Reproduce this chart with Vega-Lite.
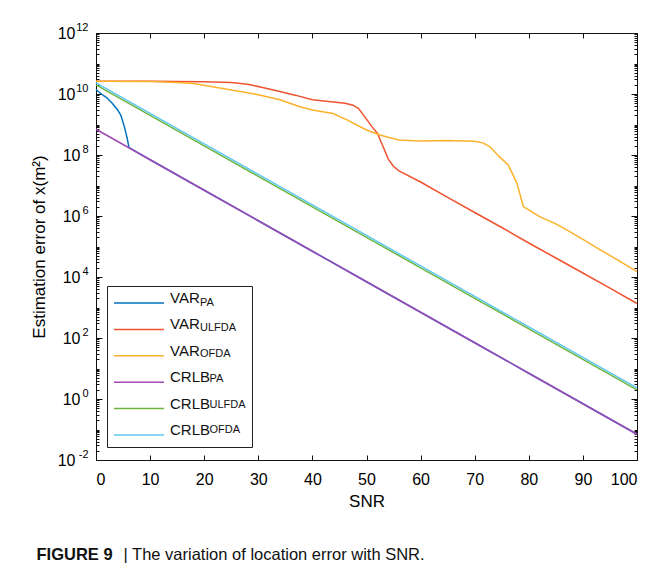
{
  "$schema": "https://vega.github.io/schema/vega-lite/v6.json",
  "width": 541,
  "height": 427,
  "autosize": {"type": "none"},
  "padding": {"left": 96, "top": 33, "right": 28, "bottom": 115},
  "background": "white",
  "config": {
    "view": {"stroke": "#111", "strokeWidth": 1},
    "font": "Liberation Sans",
    "axis": {"grid": false, "domain": false, "labelColor": "black", "titleColor": "black", "tickColor": "#111", "labelFont": "Liberation Sans", "titleFont": "Liberation Sans", "titleFontWeight": "normal"}
  },
  "data": {"values": [
    {"snr": 0, "err": 1.4e10, "series": "VAR_PA"},
    {"snr": 1, "err": 1.0e10, "series": "VAR_PA"},
    {"snr": 2, "err": 7.5e9, "series": "VAR_PA"},
    {"snr": 3, "err": 5.0e9, "series": "VAR_PA"},
    {"snr": 4, "err": 3.0e9, "series": "VAR_PA"},
    {"snr": 4.6, "err": 2.0e9, "series": "VAR_PA"},
    {"snr": 5.2, "err": 9e8, "series": "VAR_PA"},
    {"snr": 5.7, "err": 4e8, "series": "VAR_PA"},
    {"snr": 6.1, "err": 1.75e8, "series": "VAR_PA"},
    {"snr": 10, "err": 7e7, "series": "VAR_PA"},
    {"snr": 20, "err": 7e6, "series": "VAR_PA"},
    {"snr": 30, "err": 7e5, "series": "VAR_PA"},
    {"snr": 40, "err": 7e4, "series": "VAR_PA"},
    {"snr": 50, "err": 7e3, "series": "VAR_PA"},
    {"snr": 60, "err": 700, "series": "VAR_PA"},
    {"snr": 70, "err": 70, "series": "VAR_PA"},
    {"snr": 80, "err": 7, "series": "VAR_PA"},
    {"snr": 90, "err": 0.7, "series": "VAR_PA"},
    {"snr": 100, "err": 0.07, "series": "VAR_PA"},

    {"snr": 0, "err": 2.6e10, "series": "VAR_ULFDA"},
    {"snr": 10, "err": 2.6e10, "series": "VAR_ULFDA"},
    {"snr": 20, "err": 2.5e10, "series": "VAR_ULFDA"},
    {"snr": 25, "err": 2.4e10, "series": "VAR_ULFDA"},
    {"snr": 28, "err": 2.1e10, "series": "VAR_ULFDA"},
    {"snr": 31, "err": 1.6e10, "series": "VAR_ULFDA"},
    {"snr": 34, "err": 1.2e10, "series": "VAR_ULFDA"},
    {"snr": 37, "err": 9e9, "series": "VAR_ULFDA"},
    {"snr": 40, "err": 6.5e9, "series": "VAR_ULFDA"},
    {"snr": 43, "err": 5.7e9, "series": "VAR_ULFDA"},
    {"snr": 46, "err": 5.0e9, "series": "VAR_ULFDA"},
    {"snr": 47.5, "err": 4.3e9, "series": "VAR_ULFDA"},
    {"snr": 48.5, "err": 3.4e9, "series": "VAR_ULFDA"},
    {"snr": 50, "err": 1.5e9, "series": "VAR_ULFDA"},
    {"snr": 51, "err": 8.5e8, "series": "VAR_ULFDA"},
    {"snr": 52, "err": 5.2e8, "series": "VAR_ULFDA"},
    {"snr": 53, "err": 2.0e8, "series": "VAR_ULFDA"},
    {"snr": 54, "err": 7.5e7, "series": "VAR_ULFDA"},
    {"snr": 55, "err": 4.2e7, "series": "VAR_ULFDA"},
    {"snr": 56, "err": 3.0e7, "series": "VAR_ULFDA"},
    {"snr": 60, "err": 1.3e7, "series": "VAR_ULFDA"},
    {"snr": 65, "err": 4.1e6, "series": "VAR_ULFDA"},
    {"snr": 70, "err": 1.3e6, "series": "VAR_ULFDA"},
    {"snr": 75, "err": 4.2e5, "series": "VAR_ULFDA"},
    {"snr": 80, "err": 1.3e5, "series": "VAR_ULFDA"},
    {"snr": 85, "err": 4.2e4, "series": "VAR_ULFDA"},
    {"snr": 90, "err": 1.35e4, "series": "VAR_ULFDA"},
    {"snr": 95, "err": 4.3e3, "series": "VAR_ULFDA"},
    {"snr": 100, "err": 1.35e3, "series": "VAR_ULFDA"},

    {"snr": 0, "err": 2.6e10, "series": "VAR_OFDA"},
    {"snr": 10, "err": 2.55e10, "series": "VAR_OFDA"},
    {"snr": 15, "err": 2.4e10, "series": "VAR_OFDA"},
    {"snr": 18, "err": 2.2e10, "series": "VAR_OFDA"},
    {"snr": 21, "err": 1.8e10, "series": "VAR_OFDA"},
    {"snr": 25, "err": 1.35e10, "series": "VAR_OFDA"},
    {"snr": 30, "err": 9.5e9, "series": "VAR_OFDA"},
    {"snr": 34, "err": 6.5e9, "series": "VAR_OFDA"},
    {"snr": 37.7, "err": 3.8e9, "series": "VAR_OFDA"},
    {"snr": 40, "err": 3.0e9, "series": "VAR_OFDA"},
    {"snr": 43.8, "err": 2.3e9, "series": "VAR_OFDA"},
    {"snr": 46.3, "err": 1.45e9, "series": "VAR_OFDA"},
    {"snr": 50, "err": 6.6e8, "series": "VAR_OFDA"},
    {"snr": 52.5, "err": 4.5e8, "series": "VAR_OFDA"},
    {"snr": 54, "err": 3.8e8, "series": "VAR_OFDA"},
    {"snr": 56, "err": 3.1e8, "series": "VAR_OFDA"},
    {"snr": 60, "err": 2.9e8, "series": "VAR_OFDA"},
    {"snr": 65, "err": 3.0e8, "series": "VAR_OFDA"},
    {"snr": 70, "err": 2.8e8, "series": "VAR_OFDA"},
    {"snr": 71.5, "err": 2.5e8, "series": "VAR_OFDA"},
    {"snr": 72.8, "err": 1.9e8, "series": "VAR_OFDA"},
    {"snr": 74.5, "err": 9e7, "series": "VAR_OFDA"},
    {"snr": 76.2, "err": 4.7e7, "series": "VAR_OFDA"},
    {"snr": 77.8, "err": 1.2e7, "series": "VAR_OFDA"},
    {"snr": 79, "err": 2.0e6, "series": "VAR_OFDA"},
    {"snr": 80, "err": 1.6e6, "series": "VAR_OFDA"},
    {"snr": 82, "err": 9.5e5, "series": "VAR_OFDA"},
    {"snr": 85, "err": 5.5e5, "series": "VAR_OFDA"},
    {"snr": 87, "err": 3.5e5, "series": "VAR_OFDA"},
    {"snr": 90, "err": 1.7e5, "series": "VAR_OFDA"},
    {"snr": 93.2, "err": 7.8e4, "series": "VAR_OFDA"},
    {"snr": 96, "err": 4.0e4, "series": "VAR_OFDA"},
    {"snr": 100, "err": 1.5e4, "series": "VAR_OFDA"},

    {"snr": 0, "err": 7e8, "series": "CRLB_PA"},
    {"snr": 10, "err": 7e7, "series": "CRLB_PA"},
    {"snr": 20, "err": 7e6, "series": "CRLB_PA"},
    {"snr": 30, "err": 7e5, "series": "CRLB_PA"},
    {"snr": 40, "err": 7e4, "series": "CRLB_PA"},
    {"snr": 50, "err": 7e3, "series": "CRLB_PA"},
    {"snr": 60, "err": 700, "series": "CRLB_PA"},
    {"snr": 70, "err": 70, "series": "CRLB_PA"},
    {"snr": 80, "err": 7, "series": "CRLB_PA"},
    {"snr": 90, "err": 0.7, "series": "CRLB_PA"},
    {"snr": 100, "err": 0.07, "series": "CRLB_PA"},

    {"snr": 0, "err": 2.0e10, "series": "CRLB_ULFDA"},
    {"snr": 10, "err": 2.0e9, "series": "CRLB_ULFDA"},
    {"snr": 20, "err": 2.0e8, "series": "CRLB_ULFDA"},
    {"snr": 30, "err": 2.0e7, "series": "CRLB_ULFDA"},
    {"snr": 40, "err": 2.0e6, "series": "CRLB_ULFDA"},
    {"snr": 50, "err": 2.0e5, "series": "CRLB_ULFDA"},
    {"snr": 60, "err": 2.0e4, "series": "CRLB_ULFDA"},
    {"snr": 70, "err": 2.0e3, "series": "CRLB_ULFDA"},
    {"snr": 80, "err": 200, "series": "CRLB_ULFDA"},
    {"snr": 90, "err": 20, "series": "CRLB_ULFDA"},
    {"snr": 100, "err": 2.0, "series": "CRLB_ULFDA"},

    {"snr": 0, "err": 2.3e10, "series": "CRLB_OFDA"},
    {"snr": 10, "err": 2.3e9, "series": "CRLB_OFDA"},
    {"snr": 20, "err": 2.3e8, "series": "CRLB_OFDA"},
    {"snr": 30, "err": 2.3e7, "series": "CRLB_OFDA"},
    {"snr": 40, "err": 2.3e6, "series": "CRLB_OFDA"},
    {"snr": 50, "err": 2.3e5, "series": "CRLB_OFDA"},
    {"snr": 60, "err": 2.3e4, "series": "CRLB_OFDA"},
    {"snr": 70, "err": 2.3e3, "series": "CRLB_OFDA"},
    {"snr": 80, "err": 230, "series": "CRLB_OFDA"},
    {"snr": 90, "err": 23, "series": "CRLB_OFDA"},
    {"snr": 100, "err": 2.3, "series": "CRLB_OFDA"}
  ]},
  "layer": [
    {
      "mark": {"type": "line", "strokeWidth": 1.5},
      "encoding": {
        "x": {"field": "snr", "type": "quantitative",
              "scale": {"domain": [0, 100], "nice": false, "zero": false},
              "axis": {"orient": "bottom", "values": [0,10,20,30,40,50,60,70,80,90,100], "ticks": false, "tickSize": 0, "labelPadding": 11, "labelFontSize": 16, "title": "SNR", "titleFontSize": 17, "titlePadding": 6}},
        "y": {"field": "err", "type": "quantitative",
              "scale": {"type": "log", "domain": [0.01, 1e12], "nice": false},
              "axis": {"orient": "left", "values": [0.01, 1, 100, 1e4, 1e6, 1e8, 1e10, 1e12], "ticks": false, "tickSize": 0,
                       "labelExpr": "'10'", "labelFontSize": 16, "labelBaseline": "middle",
                       "labelPadding": {"condition": {"test": "datum.value >= 0.5 && datum.value <= 2e8", "value": 16}, "value": 21},
                       "title": "Estimation error of x(m²)", "titleFontSize": 17, "titlePadding": 9}},
        "color": {"field": "series", "type": "nominal",
                  "scale": {"domain": ["VAR_PA", "VAR_ULFDA", "VAR_OFDA", "CRLB_PA", "CRLB_ULFDA", "CRLB_OFDA"],
                            "range": ["#0072BD", "#EF5330", "#FBB12A", "#A149B5", "#6DB33F", "#5CC8F0"]},
                  "legend": {"orient": "none", "legendX": 11, "legendY": 253, "title": null,
                             "symbolType": "stroke", "symbolSize": 2500, "symbolStrokeWidth": 1.5,
                             "labelFont": "Liberation Sans", "labelFontSize": 15, "labelColor": "#111",
                             "labelBaseline": "alphabetic", "labelOffset": 5, "padding": 6,
                             "clipHeight": 22, "rowPadding": 3.4, "labelLimit": 300,
                             "labelExpr": "split(datum.label, '_')[0]"}}
      }
    },
    {
      "mark": {"type": "line", "opacity": 0},
      "encoding": {
        "x": {"field": "snr", "type": "quantitative",
              "axis": {"orient": "top", "values": [0,10,20,30,40,50,60,70,80,90,100], "labels": false, "tickSize": -5, "title": null}},
        "y": {"field": "err", "type": "quantitative",
              "axis": {"orient": "left", "values": [0.01, 1, 100, 1e4, 1e6, 1e8, 1e10, 1e12], "ticks": false, "tickSize": 0,
                       "labelExpr": "'' + round(log(datum.value) / LN10)", "labelFontSize": 11, "labelAlign": "right",
                       "labelBaseline": "middle", "labelOffset": -6, "labelPadding": 8, "title": null}},
        "color": {"field": "series", "type": "nominal",
                  "scale": {"domain": ["VAR_PA", "VAR_ULFDA", "VAR_OFDA", "CRLB_PA", "CRLB_ULFDA", "CRLB_OFDA"],
                            "range": ["#0072BD", "#EF5330", "#FBB12A", "#A149B5", "#6DB33F", "#5CC8F0"]},
                  "legend": {"orient": "none", "legendX": 11, "legendY": 253, "title": null,
                             "symbolType": "stroke", "symbolSize": 2500, "symbolStrokeWidth": 1.5, "symbolOpacity": 0,
                             "labelFont": "Liberation Sans", "labelFontSize": 11, "labelColor": "#111",
                             "labelBaseline": "middle", "labelOffset": 35, "padding": 6,
                             "clipHeight": 22, "rowPadding": 3.4, "labelLimit": 300,
                             "strokeColor": "#222", "fillColor": null,
                             "labelExpr": "split(datum.label, '_')[1]",
                             "encode": {"labels": {"update": {"dx": {"signal": "indexof(datum.value, 'CRLB') == 0 ? 9.5 : 0"}}}}}}
      }
    },
    {
      "mark": {"type": "line", "opacity": 0},
      "encoding": {
        "x": {"field": "snr", "type": "quantitative",
              "axis": {"orient": "bottom", "values": [0,10,20,30,40,50,60,70,80,90,100], "labels": false, "tickSize": -5,
                       "title": "| The variation of location error with SNR.", "titleFontSize": 16.5, "titleColor": "#111",
                       "titleX": 27, "titleY": 99, "titleAlign": "left", "titleBaseline": "alphabetic", "titleAnchor": "start"}},
        "y": {"field": "err", "type": "quantitative",
              "axis": {"orient": "left", "labels": false, "title": null,
                       "values": [0.01,0.02,0.03,0.04,0.05,0.06,0.07,0.08,0.09,0.1,0.2,0.3,0.4,0.5,0.6,0.7,0.8,0.9,1,2,3,4,5,6,7,8,9,10,20,30,40,50,60,70,80,90,100,200,300,400,500,600,700,800,900,1e3,2e3,3e3,4e3,5e3,6e3,7e3,8e3,9e3,1e4,2e4,3e4,4e4,5e4,6e4,7e4,8e4,9e4,1e5,2e5,3e5,4e5,5e5,6e5,7e5,8e5,9e5,1e6,2e6,3e6,4e6,5e6,6e6,7e6,8e6,9e6,1e7,2e7,3e7,4e7,5e7,6e7,7e7,8e7,9e7,1e8,2e8,3e8,4e8,5e8,6e8,7e8,8e8,9e8,1e9,2e9,3e9,4e9,5e9,6e9,7e9,8e9,9e9,1e10,2e10,3e10,4e10,5e10,6e10,7e10,8e10,9e10,1e11,2e11,3e11,4e11,5e11,6e11,7e11,8e11,9e11,1e12],
                       "tickSize": {"condition": {"test": "indexof([0.01, 1, 100, 10000, 1000000, 100000000, 10000000000, 1000000000000], datum.value) >= 0", "value": -6}, "value": -3}}}
      }
    },
    {
      "mark": {"type": "line", "opacity": 0},
      "encoding": {
        "x": {"field": "snr", "type": "quantitative",
              "axis": {"orient": "bottom", "labels": false, "ticks": false, "tickSize": 0,
                       "title": "FIGURE 9", "titleFontSize": 16.5, "titleFontWeight": "bold", "titleColor": "#111",
                       "titleX": -60, "titleY": 99, "titleAlign": "left", "titleBaseline": "alphabetic", "titleAnchor": "start"}},
        "y": {"field": "err", "type": "quantitative",
              "axis": {"orient": "right", "labels": false, "title": null,
                       "values": [0.01,0.02,0.03,0.04,0.05,0.06,0.07,0.08,0.09,0.1,0.2,0.3,0.4,0.5,0.6,0.7,0.8,0.9,1,2,3,4,5,6,7,8,9,10,20,30,40,50,60,70,80,90,100,200,300,400,500,600,700,800,900,1e3,2e3,3e3,4e3,5e3,6e3,7e3,8e3,9e3,1e4,2e4,3e4,4e4,5e4,6e4,7e4,8e4,9e4,1e5,2e5,3e5,4e5,5e5,6e5,7e5,8e5,9e5,1e6,2e6,3e6,4e6,5e6,6e6,7e6,8e6,9e6,1e7,2e7,3e7,4e7,5e7,6e7,7e7,8e7,9e7,1e8,2e8,3e8,4e8,5e8,6e8,7e8,8e8,9e8,1e9,2e9,3e9,4e9,5e9,6e9,7e9,8e9,9e9,1e10,2e10,3e10,4e10,5e10,6e10,7e10,8e10,9e10,1e11,2e11,3e11,4e11,5e11,6e11,7e11,8e11,9e11,1e12],
                       "tickSize": {"condition": {"test": "indexof([0.01, 1, 100, 10000, 1000000, 100000000, 10000000000, 1000000000000], datum.value) >= 0", "value": -6}, "value": -3}}}
      }
    }
  ],
  "resolve": {"scale": {"color": "independent"}, "axis": {"x": "independent", "y": "independent"}}
}
